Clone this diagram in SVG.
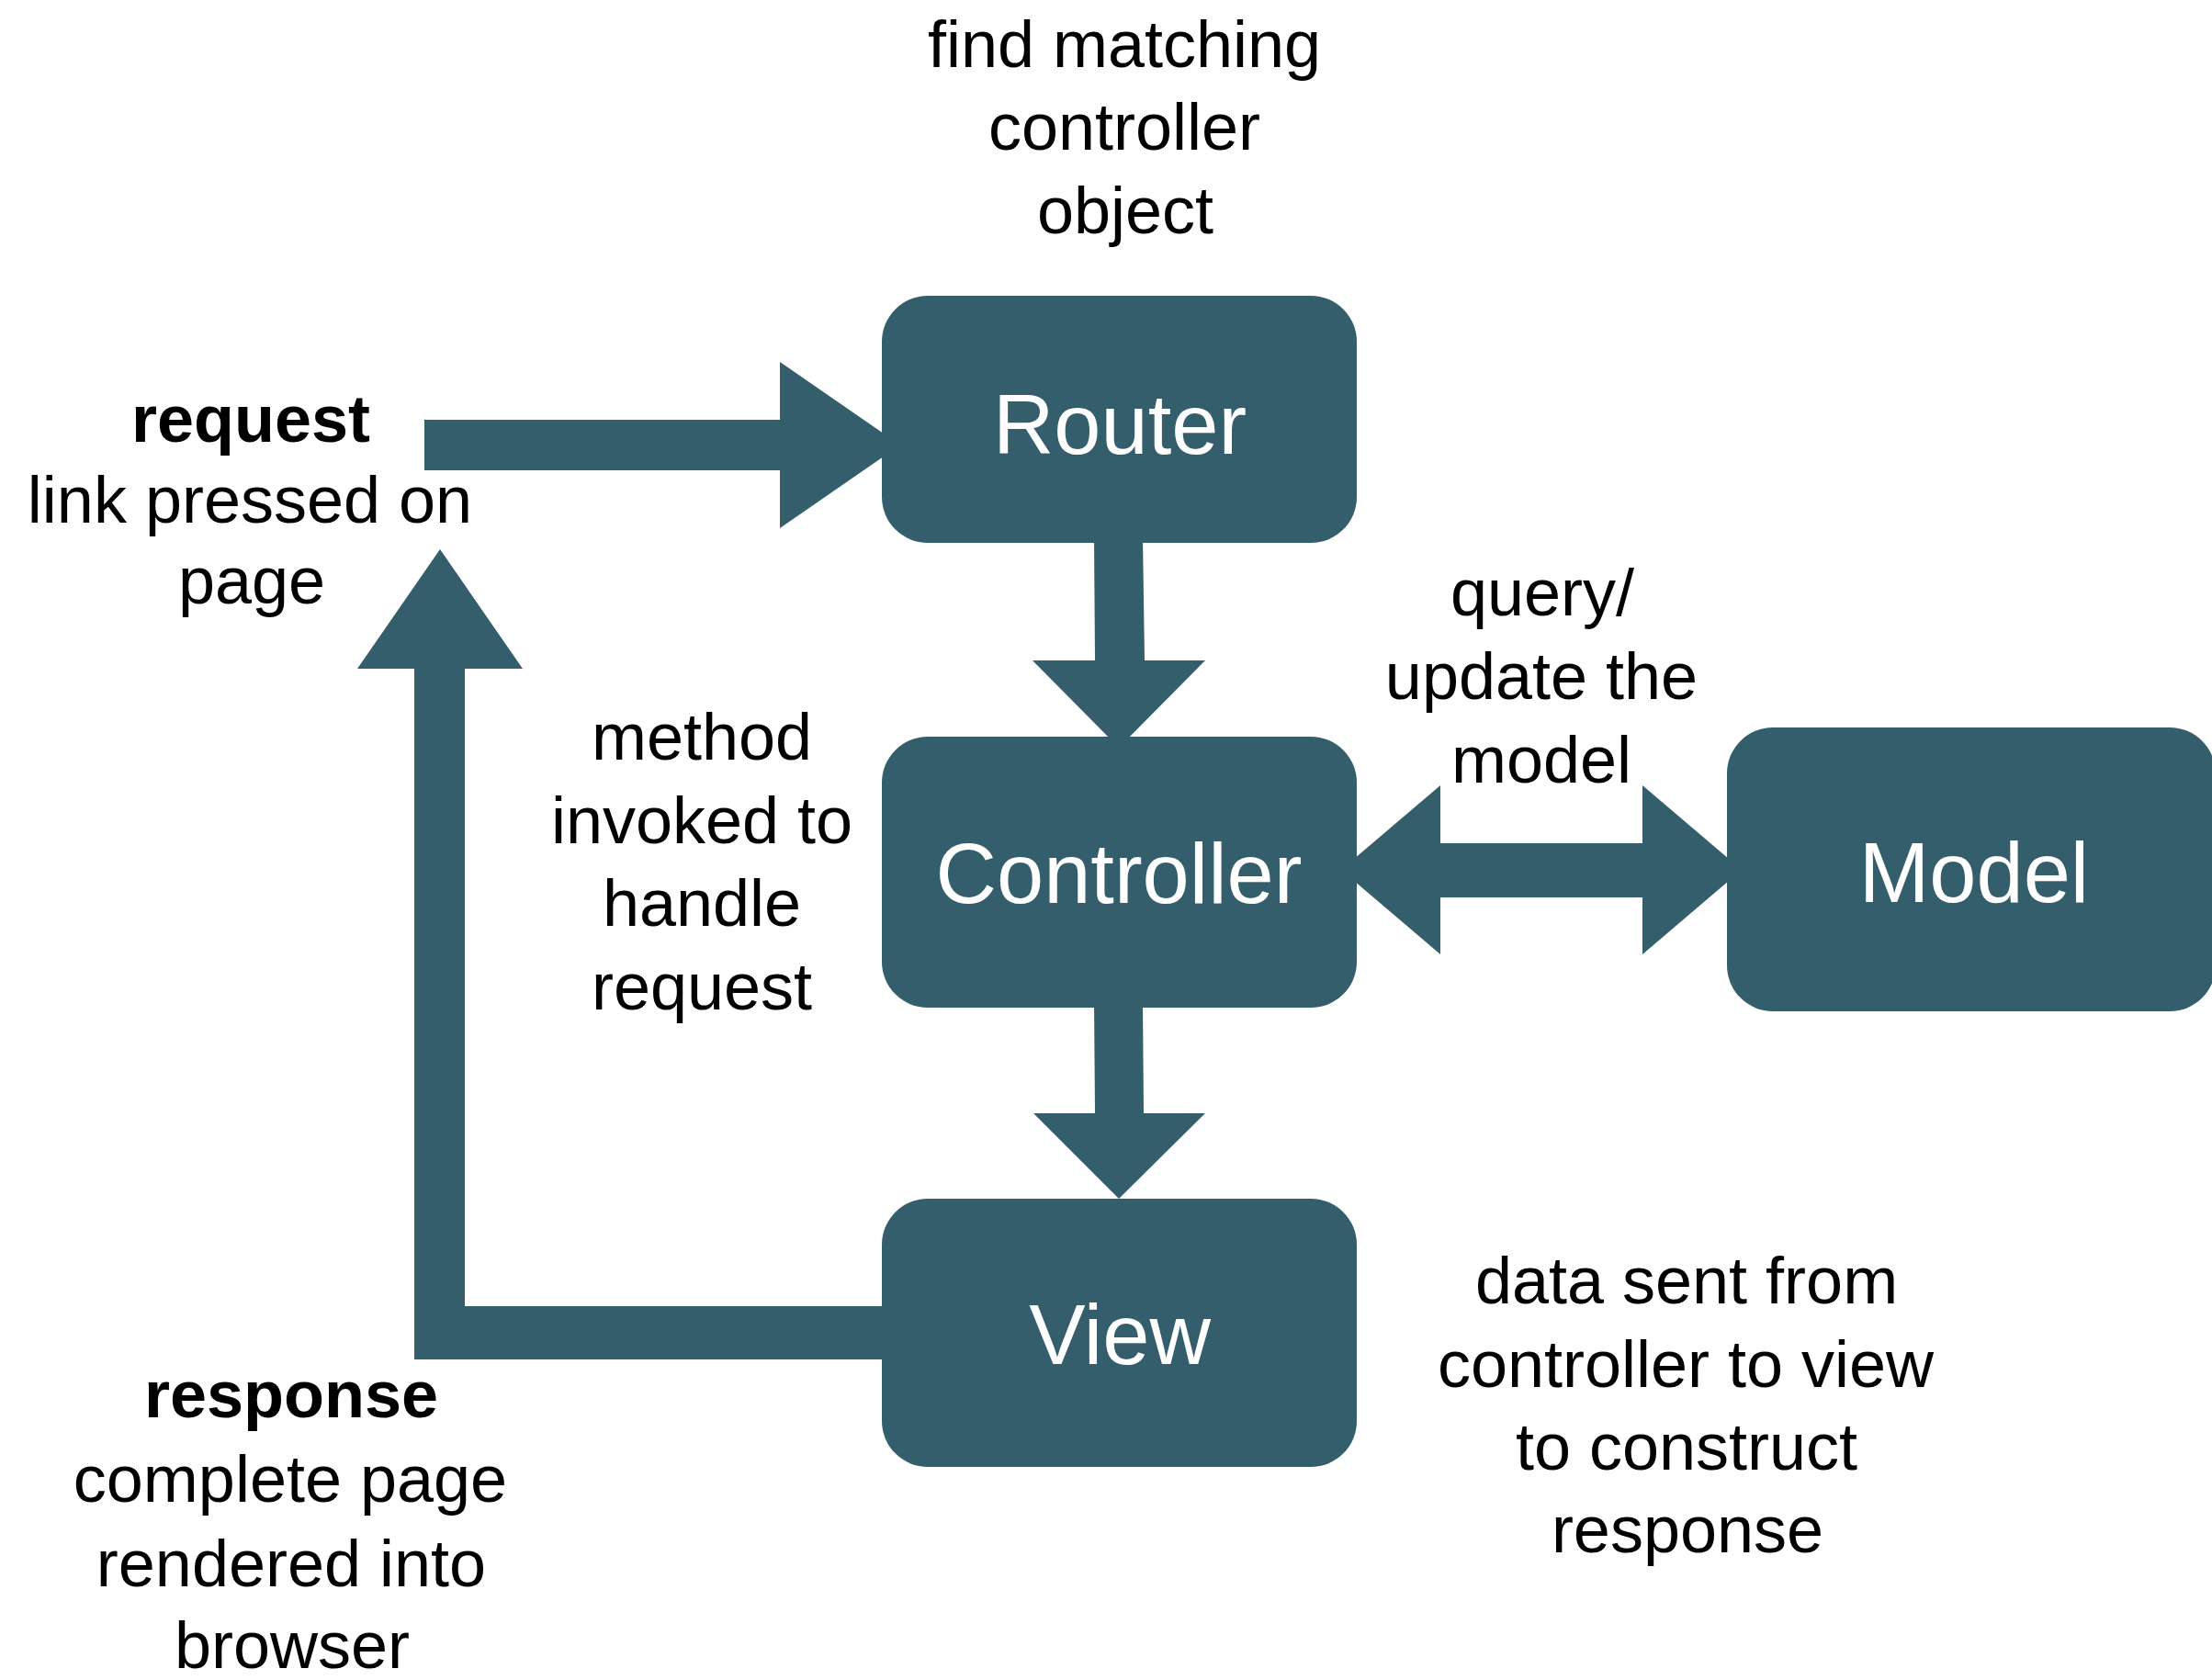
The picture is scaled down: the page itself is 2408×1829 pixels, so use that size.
<svg xmlns="http://www.w3.org/2000/svg" width="2408" height="1829" viewBox="0 0 2408 1829">
  <style>
    .box { fill: #345e6b; }
    .conn { fill: #345e6b; }
    .lbl { font-family: "Liberation Sans", Arial, Helvetica, sans-serif; font-size: 72px; fill: #000000; text-anchor: middle; }
    .bold { font-weight: bold; }
    .node { font-family: "Liberation Sans", Arial, Helvetica, sans-serif; font-size: 92px; fill: #ffffff; text-anchor: middle; }
  </style>
  <rect width="2408" height="1829" fill="#ffffff"/>

  <g id="connectors">
    <!-- request -> Router -->
    <polygon class="conn" points="462,457 849,457 849,394 980,484.5 849,575 849,512 462,512"/>
    <!-- Router -> Controller -->
    <polygon class="conn" points="1191,585 1244,585 1246,719 1312,719 1218,814 1124,719 1192,719"/>
    <!-- Controller -> View -->
    <polygon class="conn" points="1191,1090 1244,1090 1245,1212 1312,1212 1218,1305 1125,1212 1192,1212"/>
    <!-- Controller <-> Model -->
    <polygon class="conn" points="1460,947 1568,855 1568,918 1788,918 1788,855 1896,947 1788,1039 1788,977 1568,977 1568,1039"/>
    <!-- View -> response (back up to request) -->
    <polygon class="conn" points="965,1422 506,1422 506,728 569,728 479,598 389,728 451,728 451,1480 965,1480"/>
  </g>

  <g id="node-router">
    <rect class="box" x="960" y="322" width="517" height="269" rx="50" ry="50"/>
    <text class="node" x="1219" y="494">Router</text>
  </g>
  <g id="node-controller">
    <rect class="box" x="960" y="802" width="517" height="295" rx="50" ry="50"/>
    <text class="node" x="1218" y="983">Controller</text>
  </g>
  <g id="node-model">
    <rect class="box" x="1880" y="792" width="532" height="309" rx="50" ry="50"/>
    <text class="node" x="2149" y="982">Model</text>
  </g>
  <g id="node-view">
    <rect class="box" x="960" y="1305" width="517" height="292" rx="50" ry="50"/>
    <text class="node" x="1219" y="1485">View</text>
  </g>

  <g id="label-router">
    <text class="lbl" x="1224" y="73">find matching</text>
    <text class="lbl" x="1224" y="163">controller</text>
    <text class="lbl" x="1225" y="254">object</text>
  </g>
  <g id="label-request">
    <text class="lbl bold" x="273" y="481">request</text>
    <text class="lbl" x="272" y="569">link pressed on</text>
    <text class="lbl" x="274" y="657">page</text>
  </g>
  <g id="label-controller">
    <text class="lbl" x="764" y="827">method</text>
    <text class="lbl" x="764" y="918">invoked to</text>
    <text class="lbl" x="764" y="1008">handle</text>
    <text class="lbl" x="764" y="1099">request</text>
  </g>
  <g id="label-model">
    <text class="lbl" x="1679" y="670">query/</text>
    <text class="lbl" x="1678" y="761">update the</text>
    <text class="lbl" x="1678" y="852">model</text>
  </g>
  <g id="label-response">
    <text class="lbl bold" x="317" y="1543">response</text>
    <text class="lbl" x="316" y="1635">complete page</text>
    <text class="lbl" x="317" y="1727">rendered into</text>
    <text class="lbl" x="318" y="1816">browser</text>
  </g>
  <g id="label-view">
    <text class="lbl" x="1836" y="1419">data sent from</text>
    <text class="lbl" x="1835" y="1510">controller to view</text>
    <text class="lbl" x="1836" y="1600">to construct</text>
    <text class="lbl" x="1837" y="1690">response</text>
  </g>
</svg>
